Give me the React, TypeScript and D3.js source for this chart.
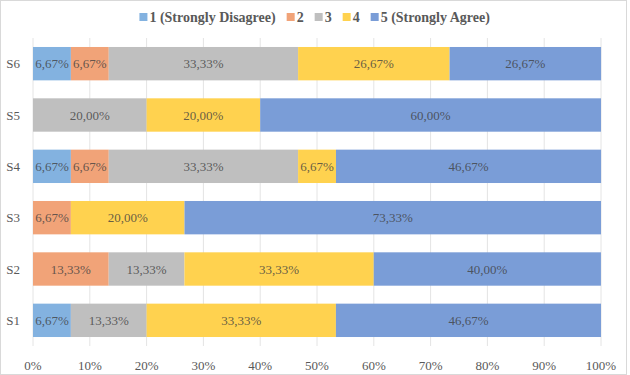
import React from 'react';
import * as d3 from 'd3';

const categories = ['S1', 'S2', 'S3', 'S4', 'S5', 'S6'];
const seriesNames = ['1 (Strongly Disagree)', '2', '3', '4', '5 (Strongly Agree)'];
const seriesColors = ['#83B2E0', '#F1A378', '#BFBFBF', '#FFD24F', '#7A9DD7'];

// values per category, in order of seriesNames (percent)
const s1 = [6.67, 0, 13.33, 33.33, 46.67];
const s2 = [0, 13.33, 13.33, 33.33, 40.0];
const s3 = [0, 6.67, 0, 20.0, 73.33];
const s4 = [6.67, 6.67, 33.33, 6.67, 46.67];
const s5 = [0, 0, 20.0, 20.0, 60.0];
const s6 = [6.67, 6.67, 33.33, 26.67, 26.67];
const rows = [s1, s2, s3, s4, s5, s6];

const xTicks = [0, 10, 20, 30, 40, 50, 60, 70, 80, 90, 100];

const FONT = "'Liberation Serif'";
const FONT_SIZE = 13;
const LEGEND_SIZE = 14;

const measure = (() => {
  const ctx = document.createElement('canvas').getContext('2d');
  return (s: string) => {
    if (!ctx) return s.length * 7;
    ctx.font = `bold ${LEGEND_SIZE}px 'Liberation Serif'`;
    return ctx.measureText(s).width;
  };
})();

const width = 630;
const height = 375;
const margin = { top: 38, right: 29, bottom: 29, left: 33 };

const App = () => {
  const x = d3.scaleLinear()
    .domain([0, 100])
    .range([margin.left, width - margin.right]);

  const y = d3.scaleBand()
    .domain(categories.slice().reverse())
    .range([margin.top, height - margin.bottom])
    .paddingInner(0.35)
    .paddingOuter(0.175);

  // stacked segments
  const segs: { cat: string; i: number; x0: number; x1: number; v: number }[] = [];
  categories.forEach((c, ci) => {
    let acc = 0;
    rows[ci].forEach((v, i) => {
      if (v > 0) segs.push({ cat: c, i, x0: acc, x1: acc + v, v });
      acc += v;
    });
  });

  // legend layout, centered
  const gap = 11;
  let offset = 0;
  const legendItems = seriesNames.map((name, i) => {
    const item = { name, i, x: offset };
    offset += 10 + measure(name) + gap;
    return item;
  });
  const legendX = (width - (offset - gap)) / 2;

  const textProps = { fontFamily: FONT, fontSize: FONT_SIZE };

  return (
    <svg
      width={width}
      height={height}
      style={{ display: 'block', position: 'absolute', left: 0, top: 0 }}
    >
      <rect x={0.5} y={0.5} width={width - 4} height={height - 1} fill="#fff" stroke="#d9d9d9" />

      <g>
        {xTicks.map(t => (
          <line key={t} x1={x(t)} x2={x(t)} y1={margin.top} y2={height - margin.bottom} stroke="#e4e4e4" />
        ))}
      </g>

      <g>
        {xTicks.map(t => (
          <text key={t} {...textProps} x={x(t)} y={height - 5} textAnchor="middle" fill="#595959">
            {`${t}%`}
          </text>
        ))}
      </g>

      <g>
        {categories.map(c => (
          <text
            key={c}
            {...textProps}
            x={margin.left - 13}
            y={(y(c) as number) + y.bandwidth() / 2}
            dy="0.35em"
            textAnchor="end"
            fill="#595959"
          >
            {c}
          </text>
        ))}
      </g>

      <g>
        {segs.map((d, k) => (
          <rect
            key={k}
            x={x(d.x0)}
            y={y(d.cat) as number}
            width={x(d.x1) - x(d.x0)}
            height={y.bandwidth()}
            fill={seriesColors[d.i]}
          />
        ))}
        {segs.map((d, k) => (
          <text
            key={k}
            {...textProps}
            x={(x(d.x0) + x(d.x1)) / 2}
            y={(y(d.cat) as number) + y.bandwidth() / 2}
            dy="0.35em"
            textAnchor="middle"
            fill="#404040"
            fillOpacity={0.8}
          >
            {d.v.toFixed(2).replace('.', ',') + '%'}
          </text>
        ))}
      </g>

      <g transform={`translate(${legendX},18)`}>
        {legendItems.map(it => (
          <g key={it.name} transform={`translate(${it.x},0)`}>
            <rect width={8} height={8} y={-5} fill={seriesColors[it.i]} />
            <text
              fontFamily={FONT}
              fontSize={LEGEND_SIZE}
              fontWeight="bold"
              x={10}
              y={0}
              dy="0.32em"
              fill="#595959"
            >
              {it.name}
            </text>
          </g>
        ))}
      </g>
    </svg>
  );
};

export default App;
